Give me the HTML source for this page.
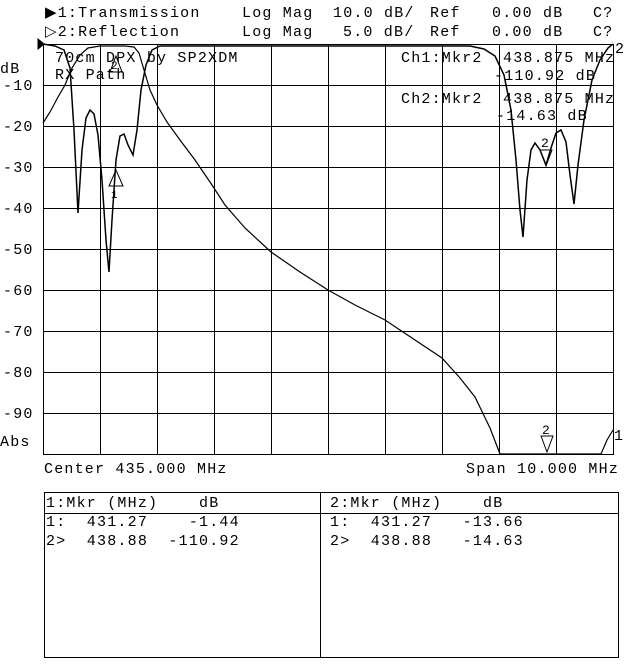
<!DOCTYPE html>
<html><head><style>
body{margin:0;background:#fff;width:640px;height:659px;overflow:hidden}
svg text{font-family:"Liberation Mono",monospace;font-size:15px;fill:#000;letter-spacing:1.2px}
</style></head><body>
<svg width="640" height="659" viewBox="0 0 640 659" xmlns="http://www.w3.org/2000/svg">
<g stroke="#000" stroke-width="1" fill="none">
<rect x="43.5" y="44.5" width="570" height="410"/>
<path d="M100.5 44V454M157.5 44V454M214.5 44V454M271.5 44V454M328.5 44V454M385.5 44V454M442.5 44V454M499.5 44V454M556.5 44V454"/>
<path d="M43 85.5H613M43 126.5H613M43 167.5H613M43 208.5H613M43 249.5H613M43 290.5H613M43 331.5H613M43 372.5H613M43 413.5H613"/>
<path stroke-width="1.2" d="M43 123 L50 112 L58 97 L65 85 L72 68 L80 55 L88 48 L100 46 L125 46 L134 47 L139 53 L144 70 L150 90 L157 105 L167 122 L180 140 L195 160 L210 182 L225 205 L245 228 L271 252 L300 272 L328 290 L355 305 L385 320 L415 340 L442 358 L460 378 L475 397 L490 428 L500 454 L601 454 L607 440 L613 430"/>
<path stroke-width="1.5" d="M43 44 L55 46 L64 50 L70 68 L74 130 L78 213 L82 150 L86 118 L90 110 L94 114 L98 135 L102 180 L106 240 L109 272 L112 220 L116 160 L120 136 L124 134 L128 145 L133 155 L137 130 L141 90 L146 65 L152 50 L160 46 L470 46 L484 49 L495 56 L504 75 L511 110 L516 160 L520 210 L523 237 L527 180 L531 150 L535 143 L540 150 L546 165 L551 148 L556 133 L561 130 L566 142 L570 175 L574 204 L578 165 L584 120 L592 80 L600 60 L608 48 L613 44"/>
<path d="M110 72 L116 56 L122 72Z M109 186 L116 170 L123 186Z M540 150 L546 166 L552 150Z M541 436 L547 452 L553 436Z"/>
<path d="M38 39 L44 44 L38 49Z" fill="#000"/>
<rect x="44.5" y="492.5" width="574" height="165"/>
<path d="M44 513.5H619M320.5 492V658"/>
</g>
<text x="45" y="17">▶1:Transmission</text>
<text x="45" y="36">▷2:Reflection</text>
<text x="242" y="17">Log Mag</text><text x="242" y="36">Log Mag</text>
<text x="333" y="17">10.0 dB/</text><text x="343" y="36">5.0 dB/</text>
<text x="430" y="17">Ref</text><text x="430" y="36">Ref</text>
<text x="492" y="17">0.00 dB</text><text x="492" y="36">0.00 dB</text>
<text x="593" y="17">C?</text><text x="593" y="36">C?</text>
<text x="55" y="62" xml:space="preserve">70cm DPX by SP2XDM</text>
<text x="55" y="79" xml:space="preserve">RX Path</text>
<text x="401" y="62" xml:space="preserve">Ch1:Mkr2  438.875 MHz</text>
<text x="494" y="80" xml:space="preserve">-110.92 dB</text>
<text x="401" y="103" xml:space="preserve">Ch2:Mkr2  438.875 MHz</text>
<text x="496" y="120" xml:space="preserve">-14.63 dB</text>
<text x="111" y="69" style="font-size:11px">2</text>
<text x="111" y="198" style="font-size:11px">1</text>
<text x="541" y="147" style="font-size:13px">2</text>
<text x="542" y="434" style="font-size:13px">2</text>
<text x="615" y="53">2</text>
<text x="614" y="440">1</text>
<text x="0" y="73">dB</text>
<text x="3" y="90">-10</text><text x="3" y="131">-20</text><text x="3" y="172">-30</text>
<text x="3" y="213">-40</text><text x="3" y="254">-50</text><text x="3" y="295">-60</text>
<text x="3" y="336">-70</text><text x="3" y="377">-80</text><text x="3" y="418">-90</text>
<text x="0" y="446">Abs</text>
<text x="44" y="473" xml:space="preserve">Center 435.000 MHz</text>
<text x="466" y="473" xml:space="preserve">Span 10.000 MHz</text>
<text x="46" y="507" xml:space="preserve">1:Mkr (MHz)    dB</text>
<text x="46" y="526" xml:space="preserve">1:  431.27    -1.44</text>
<text x="46" y="545" xml:space="preserve">2&gt;  438.88  -110.92</text>
<text x="330" y="507" xml:space="preserve">2:Mkr (MHz)    dB</text>
<text x="330" y="526" xml:space="preserve">1:  431.27   -13.66</text>
<text x="330" y="545" xml:space="preserve">2&gt;  438.88   -14.63</text>
</svg>
</body></html>
